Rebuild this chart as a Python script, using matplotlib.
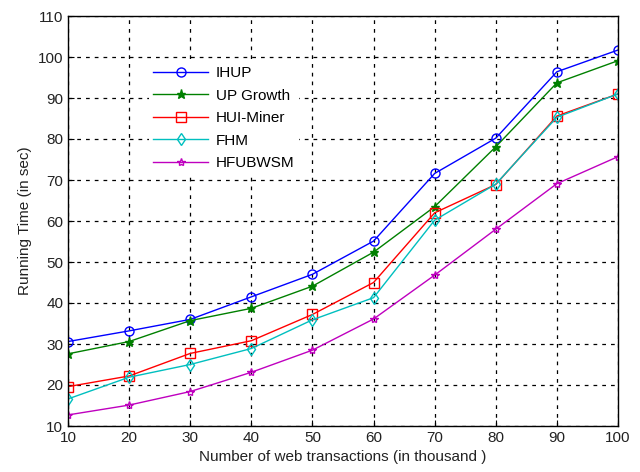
import matplotlib
matplotlib.use("Agg")
import matplotlib.pyplot as plt

plt.rcParams['font.family'] = ['Liberation Sans', 'DejaVu Sans']

x = [10, 20, 30, 40, 50, 60, 70, 80, 90, 100]
ihup = [30.6, 33.2, 36.0, 41.5, 47.0, 55.1, 71.6, 80.2, 96.4, 101.7]
upgrowth = [27.6, 30.6, 35.7, 38.7, 44.1, 52.4, 63.5, 78.1, 93.7, 99.1]
huiminer = [19.6, 22.2, 27.7, 30.8, 37.2, 45.0, 62.0, 68.9, 85.6, 91.0]
fhm = [16.6, 21.9, 25.0, 28.9, 35.9, 41.3, 60.2, 69.0, 85.3, 91.0]
hfubwsm = [12.7, 15.1, 18.4, 23.1, 28.5, 36.1, 46.8, 58.0, 69.1, 75.7]
labels = ['IHUP', 'UP Growth', 'HUI-Miner', 'FHM', 'HFUBWSM']

fig = plt.figure(figsize=(6.4, 4.72), dpi=100)
ax = fig.add_axes([68/640, 1-426/472, (618-68)/640, (426-16)/472])

ax.plot(x, ihup, color='#0000ff', marker='o', mfc='none', ms=6.5, lw=1, label=labels[0])
ax.plot(x, upgrowth, color='#008000', marker='*', ms=6.5, lw=1, label=labels[1])
ax.plot(x, huiminer, color='#ff0000', marker='s', mfc='none', ms=6.5, lw=1, label=labels[2])
ax.plot(x, fhm, color='#00bfbf', marker='d', mfc='none', ms=6.5, lw=1, label=labels[3])
ax.plot(x, hfubwsm, color='#bf00bf', marker='*', mfc='none', ms=6, lw=1, label=labels[4])

ax.set_xlim(10, 100)
ax.set_ylim(10, 110)
ax.set_xticks(range(10, 101, 10))
ax.set_yticks(range(10, 111, 10))
ax.grid(True, color='black', linestyle=(0, (3, 4)), linewidth=0.9)
ax.tick_params(direction='in', labelsize=11, length=4, colors='black', labelcolor='#222222')
for s in ax.spines.values():
    s.set_linewidth(1.0)
ax.set_xlabel('Number of web transactions (in thousand )', fontsize=11, color='#222222', labelpad=4)
ax.set_ylabel('Running Time (in sec)', fontsize=11, color='#222222', labelpad=4)

leg = ax.legend(loc='upper left', bbox_to_anchor=(0.133, 0.907), frameon=True, fancybox=False,
                handlelength=3.6, fontsize=11, labelspacing=0.55, borderpad=0.3, handletextpad=0.5)
leg.get_frame().set_edgecolor('none')
leg.get_frame().set_facecolor('white')
leg.get_frame().set_alpha(1)

fig.savefig('out.png', dpi=100)
